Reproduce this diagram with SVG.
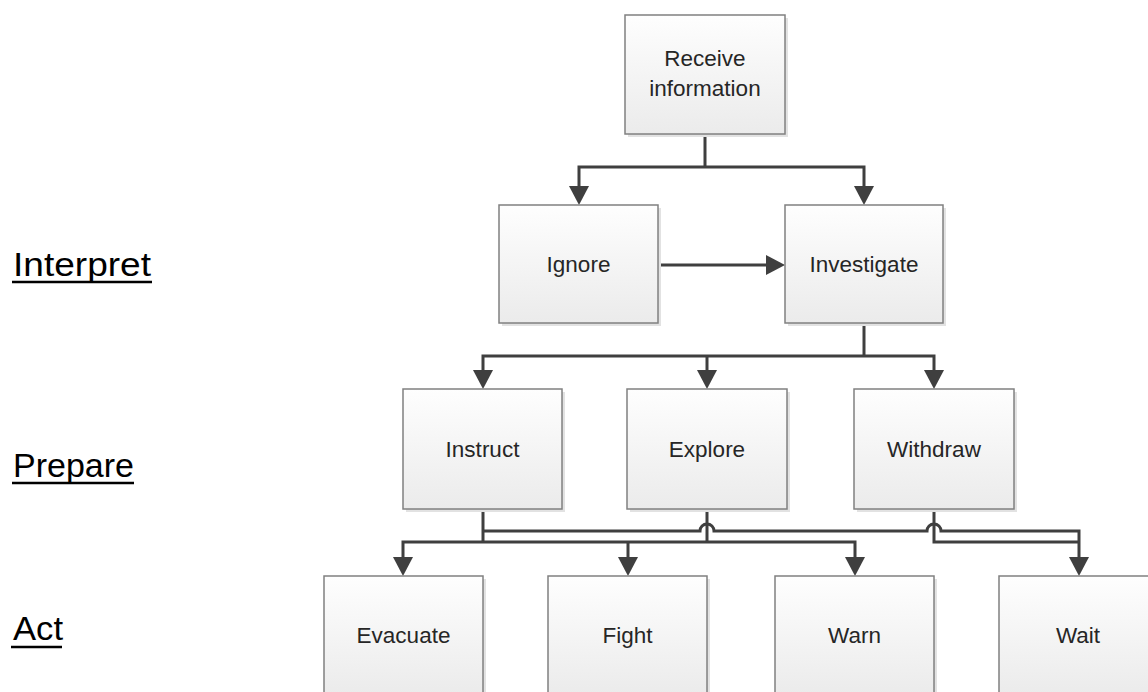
<svg xmlns="http://www.w3.org/2000/svg" width="1148" height="692" viewBox="0 0 1148 692">
  <defs>
    <linearGradient id="boxfill" x1="0" y1="0" x2="0" y2="1">
      <stop offset="0" stop-color="#fefefe"/>
      <stop offset="1" stop-color="#ebebeb"/>
    </linearGradient>
    <marker id="ah" viewBox="0 0 20 20" markerWidth="20" markerHeight="20" markerUnits="userSpaceOnUse" refX="9" refY="10" orient="auto">
      <path d="M0,0 L19,10 L0,20 z" fill="#3f3f3f"/>
    </marker>
    <style>
      .shadow { fill: #e2e2e2; }
      .box { fill: url(#boxfill); stroke: #808080; stroke-width: 1.5; }
      .nt { font-family: "Liberation Sans", Arial, sans-serif; font-size: 22.5px; fill: #262626; text-anchor: middle; }
      .lbl { font-family: "Liberation Sans", Arial, sans-serif; font-size: 33px; fill: #000000; }
      .ul { stroke: #000000; stroke-width: 2.5; }
      .c { fill: none; stroke: #3f3f3f; stroke-width: 3; stroke-linejoin: miter; }
      .ca { fill: none; stroke: #3f3f3f; stroke-width: 3; marker-end: url(#ah); }
    </style>
  </defs>
  <rect width="1148" height="692" fill="#ffffff"/>

  <g id="labels">
    <text class="lbl" x="13" y="276" textLength="138" lengthAdjust="spacingAndGlyphs">Interpret</text>
    <line class="ul" x1="12" y1="282" x2="152" y2="282"/>
    <text class="lbl" x="13" y="477" textLength="121" lengthAdjust="spacingAndGlyphs">Prepare</text>
    <line class="ul" x1="12" y1="483" x2="134" y2="483"/>
    <text class="lbl" x="13" y="640" textLength="50" lengthAdjust="spacingAndGlyphs">Act</text>
    <line class="ul" x1="11" y1="647" x2="62" y2="647"/>
  </g>

  <g id="connectors">
    <path class="c" d="M705,134 V167"/>
    <path class="ca" d="M705,167 H579 V195"/>
    <path class="ca" d="M705,167 H864 V195"/>
    <path class="ca" d="M658,265 H775"/>
    <path class="c" d="M864,323 V356"/>
    <path class="ca" d="M864,356 H483 V379"/>
    <path class="ca" d="M707,356 V379"/>
    <path class="ca" d="M864,356 H934 V379"/>
    <path class="c" d="M483,509 V542"/>
    <path class="ca" d="M483,542 H403 V566"/>
    <path class="ca" d="M483,542 H855 V566"/>
    <path class="c" d="M707,509 V542"/>
    <path class="ca" d="M628,542 V566"/>
    <path class="ca" d="M483,531 H700 A7,7 0 0 1 714,531 H927 A7,7 0 0 1 941,531 H1079 V566"/>
    <path class="c" d="M934,509 V542 H1079"/>
  </g>

  <g id="receive">
    <rect class="shadow" x="628" y="18" width="160" height="119"/>
    <rect class="box" x="625" y="15" width="160" height="119"/>
    <text class="nt" x="705" y="66">Receive</text>
    <text class="nt" x="705" y="96">information</text>
  </g>
  <g id="ignore">
    <rect class="shadow" x="502" y="208" width="159" height="118"/>
    <rect class="box" x="499" y="205" width="159" height="118"/>
    <text class="nt" x="578.5" y="272">Ignore</text>
  </g>
  <g id="investigate">
    <rect class="shadow" x="788" y="208" width="158" height="118"/>
    <rect class="box" x="785" y="205" width="158" height="118"/>
    <text class="nt" x="864" y="272">Investigate</text>
  </g>
  <g id="instruct">
    <rect class="shadow" x="406" y="392" width="159" height="120"/>
    <rect class="box" x="403" y="389" width="159" height="120"/>
    <text class="nt" x="482.5" y="457">Instruct</text>
  </g>
  <g id="explore">
    <rect class="shadow" x="630" y="392" width="160" height="120"/>
    <rect class="box" x="627" y="389" width="160" height="120"/>
    <text class="nt" x="707" y="457">Explore</text>
  </g>
  <g id="withdraw">
    <rect class="shadow" x="857" y="392" width="160" height="120"/>
    <rect class="box" x="854" y="389" width="160" height="120"/>
    <text class="nt" x="934" y="457">Withdraw</text>
  </g>
  <g id="evacuate">
    <rect class="shadow" x="327" y="579" width="159" height="119"/>
    <rect class="box" x="324" y="576" width="159" height="119"/>
    <text class="nt" x="403.5" y="643">Evacuate</text>
  </g>
  <g id="fight">
    <rect class="shadow" x="551" y="579" width="159" height="119"/>
    <rect class="box" x="548" y="576" width="159" height="119"/>
    <text class="nt" x="627.5" y="643">Fight</text>
  </g>
  <g id="warn">
    <rect class="shadow" x="778" y="579" width="159" height="119"/>
    <rect class="box" x="775" y="576" width="159" height="119"/>
    <text class="nt" x="854.5" y="643">Warn</text>
  </g>
  <g id="wait">
    <rect class="shadow" x="1002" y="579" width="160" height="119"/>
    <rect class="box" x="999" y="576" width="160" height="119"/>
    <text class="nt" x="1078" y="643">Wait</text>
  </g>
</svg>
